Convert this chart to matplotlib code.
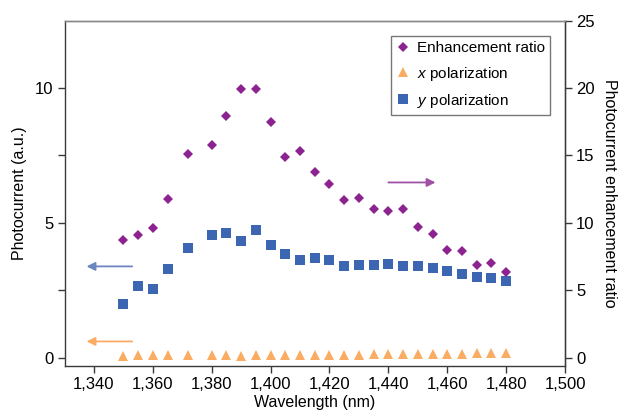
#!/usr/bin/env python3
"""Photocurrent and enhancement ratio vs wavelength."""

import matplotlib

matplotlib.use("Agg")
import matplotlib.pyplot as plt
from matplotlib.lines import Line2D

plt.rcParams["font.family"] = ["Liberation Sans Narrow", "Liberation Sans", "DejaVu Sans"]
plt.rcParams["mathtext.fontset"] = "custom"
plt.rcParams["mathtext.it"] = "Liberation Sans:italic"
plt.rcParams["mathtext.rm"] = "Liberation Sans"

wavelength = [1350, 1355, 1360, 1365, 1372, 1380, 1385, 1390, 1395, 1400, 1405, 1410, 1415,
              1420, 1425, 1430, 1435, 1440, 1445, 1450, 1455, 1460, 1465, 1470, 1475, 1480]
enhancement = [8.7, 9.1, 9.6, 11.8, 15.1, 15.8, 17.9, 19.9, 19.9, 17.5, 14.9, 15.3, 13.8,
               12.9, 11.7, 11.85, 11.0, 10.9, 11.0, 9.7, 9.2, 8.0, 7.9, 6.9, 7.0, 6.4]
x_pol = [0.08, 0.1, 0.1, 0.1, 0.1, 0.1, 0.1, 0.08, 0.1, 0.1, 0.1, 0.1, 0.1,
         0.1, 0.1, 0.12, 0.13, 0.13, 0.13, 0.13, 0.16, 0.16, 0.16, 0.2, 0.2, 0.2]
y_pol = [2.0, 2.67, 2.56, 3.3, 4.07, 4.56, 4.63, 4.33, 4.74, 4.19, 3.85, 3.63, 3.7,
         3.64, 3.41, 3.44, 3.44, 3.48, 3.42, 3.41, 3.34, 3.23, 3.11, 3.01, 2.97, 2.85]

PURPLE = "#8c2391"
ORANGE = "#fbac63"
BLUE = "#3c66b1"
SPINE = "#3a3a3a"

fig = plt.figure(figsize=(6.2, 4.19), dpi=100)
ax = fig.add_axes([64.5 / 620, 1 - 366 / 419, (565 - 64.5) / 620, (366 - 20.5) / 419])
ax2 = ax.twinx()

ax.plot(wavelength, y_pol, "s", color=BLUE, markersize=6.8, markeredgewidth=0)
ax.plot(wavelength, x_pol, "^", color=ORANGE, markersize=6.5, markeredgewidth=0)
ax2.plot(wavelength, enhancement, "D", color=PURPLE, markersize=5.2, markeredgewidth=0)

ax.set_xlim(1330, 1500)
ax.set_ylim(-0.3, 12.5)
ax2.set_ylim(-0.6, 25)

ax.set_xticks(range(1340, 1501, 20))
ax.set_xticklabels([f"{v:,}" for v in range(1340, 1501, 20)])
ax.set_yticks([0, 2.5, 5, 7.5, 10])
ax.set_yticklabels(["0", "", "5", "", "10"])
ax2.set_yticks(range(0, 26, 5))

for a in (ax, ax2):
    a.tick_params(direction="out", length=5, width=1, labelsize=12, color=SPINE, pad=3)
    for side in a.spines.values():
        side.set_color("#888888")
        side.set_linewidth(1)
ax.spines["left"].set_color(SPINE)
ax.spines["bottom"].set_color(SPINE)
ax2.spines["right"].set_color(SPINE)
ax2.spines["left"].set_visible(False)
ax2.spines["bottom"].set_visible(False)

ax.set_xlabel("Wavelength (nm)", fontsize=11.5, labelpad=2)
ax.set_ylabel("Photocurrent (a.u.)", fontsize=11.5, labelpad=6)
ax2.set_ylabel("Photocurrent enhancement ratio", fontsize=11.5, rotation=270, labelpad=16)

# direction arrows
arrow = dict(arrowstyle="-|>,head_length=0.5,head_width=0.25", mutation_scale=10, lw=1.3,
             shrinkA=0, shrinkB=0)
ax.annotate("", xy=(1337.5, 3.39), xytext=(1353, 3.39), arrowprops=dict(arrow, color="#6a85c0"))
ax.annotate("", xy=(1337.5, 0.61), xytext=(1353, 0.61), arrowprops=dict(arrow, color=ORANGE))
ax2.annotate("", xy=(1456, 13.0), xytext=(1440, 13.0), arrowprops=dict(arrow, color="#a050a5"))

handles = [
    Line2D([], [], ls="none", marker="D", color=PURPLE, markersize=5.2, markeredgewidth=0),
    Line2D([], [], ls="none", marker="^", color=ORANGE, markersize=6.5, markeredgewidth=0),
    Line2D([], [], ls="none", marker="s", color=BLUE, markersize=6.8, markeredgewidth=0),
]
labels = ["Enhancement ratio", "$x$ polarization", "$y$ polarization"]
leg = ax2.legend(handles, labels, loc="upper right", bbox_to_anchor=(0.97, 0.955), fontsize=11,
                 frameon=True, fancybox=False, edgecolor="#555555", handlelength=0.8,
                 handletextpad=0.5, borderpad=0.35, labelspacing=0.6, borderaxespad=0)
leg.get_frame().set_linewidth(1)

fig.savefig("out.png", dpi=100)
